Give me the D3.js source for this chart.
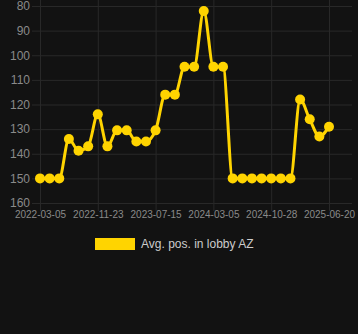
<!DOCTYPE html>
<html>
<head>
<meta charset="utf-8">
<script src="https://cdn.jsdelivr.net/npm/d3@7"></script>
<style>
  body { margin: 0; background: #121212; }
  svg { display: block; }
</style>
</head>
<body>
<div id="chart"></div>
<script>
// dates of each data point (category axis)
var dates = [
  "2022-03-05", "2022-04-18", "2022-06-01", "2022-07-15", "2022-08-28", "2022-10-10",
  "2022-11-23", "2023-01-01", "2023-02-09", "2023-03-20", "2023-04-28", "2023-06-06",
  "2023-07-15", "2023-08-23", "2023-10-01", "2023-11-09", "2023-12-18", "2024-01-26",
  "2024-03-05", "2024-04-13", "2024-05-22", "2024-06-30", "2024-08-08", "2024-09-16",
  "2024-10-28", "2024-12-06", "2025-01-14", "2025-02-22", "2025-04-02", "2025-05-11",
  "2025-06-20"
];
var avgPos = [
  150, 150, 150, 134, 138.8, 137,
  124, 137, 130.5, 130.5, 135, 135,
  130.5, 116, 116, 104.7, 104.7, 82,
  104.7, 104.7, 150, 150, 150, 150,
  150, 150, 150, 118, 126, 133,
  129
];
var xTickLabels = ["2022-03-05", "2022-11-23", "2023-07-15", "2024-03-05", "2024-10-28", "2025-06-20"];
var yTicks = [80, 90, 100, 110, 120, 130, 140, 150, 160];
var seriesName = "Avg. pos. in lobby AZ";

var width = 358, height = 334;
var svg = d3.select("#chart").append("svg")
    .attr("width", width)
    .attr("height", height);

svg.append("rect")
    .attr("width", width)
    .attr("height", height)
    .attr("fill", "#121212");

var x = d3.scalePoint().domain(dates).range([40, 329]);
var y = d3.scaleLinear().domain([80, 160]).range([6, 203]);

// horizontal grid
svg.append("g").selectAll("line")
    .data(yTicks)
    .enter().append("line")
    .attr("x1", 32)
    .attr("x2", 352)
    .attr("y1", function(d) { return y(d) + 0.5; })
    .attr("y2", function(d) { return y(d) + 0.5; })
    .attr("stroke", "#282828")
    .attr("stroke-width", 1);

// vertical grid
svg.append("g").selectAll("line")
    .data(xTickLabels)
    .enter().append("line")
    .attr("x1", function(d) { return x(d) + 0.5; })
    .attr("x2", function(d) { return x(d) + 0.5; })
    .attr("y1", 0)
    .attr("y2", 211)
    .attr("stroke", "#282828")
    .attr("stroke-width", 1);

// y axis labels
var yAxis = d3.axisLeft(y).tickValues(yTicks).tickSize(0).tickPadding(0);
var gy = svg.append("g")
    .attr("transform", "translate(30,0)")
    .call(yAxis);
gy.select(".domain").remove();
gy.selectAll("text")
    .attr("fill", "#8a8a8a")
    .style("font-family", "Arial, 'Liberation Sans', sans-serif")
    .style("font-size", "12px");

// x axis labels
var xAxis = d3.axisBottom(x).tickValues(xTickLabels).tickSize(0).tickPadding(0);
var gx = svg.append("g")
    .attr("transform", "translate(0,211)")
    .call(xAxis);
gx.select(".domain").remove();
gx.selectAll("text")
    .attr("fill", "#8a8a8a")
    .attr("dy", "0.71em")
    .style("font-family", "Arial, 'Liberation Sans', sans-serif")
    .style("font-size", "10px");

// line
var line = d3.line()
    .x(function(d, i) { return x(dates[i]); })
    .y(function(d) { return y(d); })
    .curve(d3.curveMonotoneX);

svg.append("path")
    .datum(avgPos)
    .attr("d", line)
    .attr("fill", "none")
    .attr("stroke", "#FFD400")
    .attr("stroke-width", 3);

// points
svg.append("g").selectAll("circle")
    .data(avgPos)
    .enter().append("circle")
    .attr("cx", function(d, i) { return x(dates[i]); })
    .attr("cy", function(d) { return y(d); })
    .attr("r", 5)
    .attr("fill", "#FFD400");

// legend
svg.append("rect")
    .attr("x", 95)
    .attr("y", 238)
    .attr("width", 40)
    .attr("height", 12)
    .attr("fill", "#FFD400");

svg.append("text")
    .attr("x", 141)
    .attr("y", 248)
    .attr("fill", "#cccccc")
    .style("font-family", "Arial, 'Liberation Sans', sans-serif")
    .style("font-size", "12px")
    .text(seriesName);
</script>
</body>
</html>
